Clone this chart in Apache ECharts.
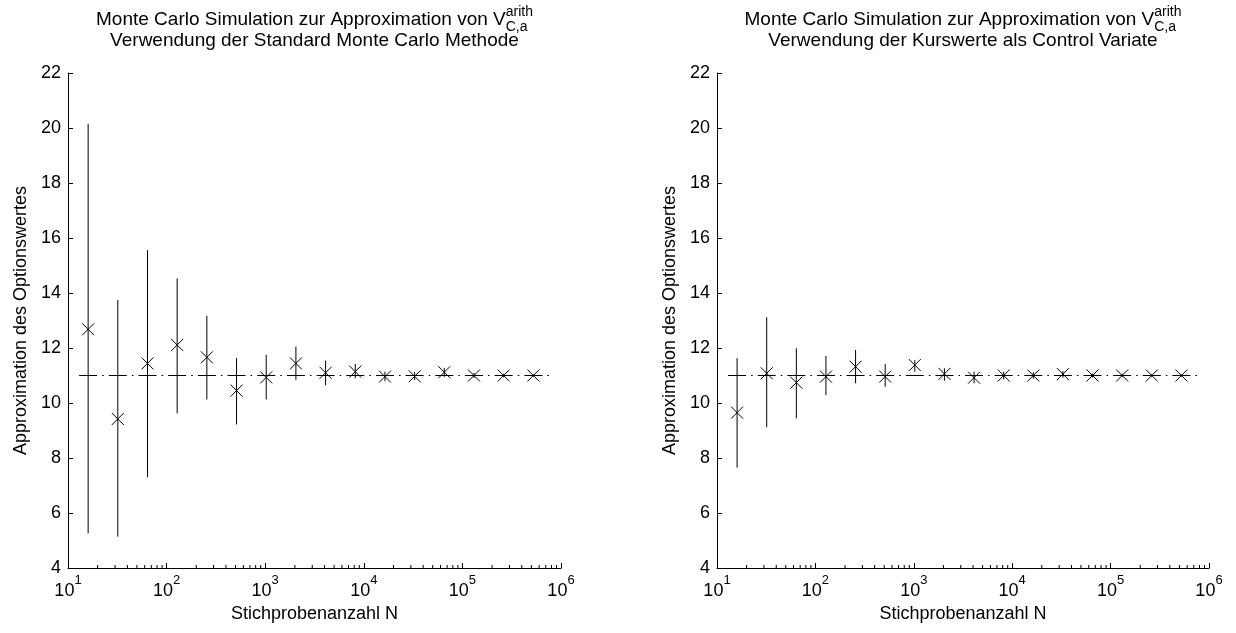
<!DOCTYPE html>
<html><head><meta charset="utf-8">
<script src="https://cdn.jsdelivr.net/npm/echarts@6/dist/echarts.min.js"></script>
<style>html,body{margin:0;padding:0;background:#fff}#c{width:1236px;height:633px}</style>
</head><body><div id="c"></div>
<script>
// ---------- data ----------
const sampleSizes = [16, 32, 64, 128, 256, 512, 1024, 2048, 4096, 8192, 16384, 32768, 65536, 131072, 262144, 524288];
const trueValue = 11;
const stdEstimate = [12.68, 9.42, 11.44, 12.11, 11.66, 10.45, 10.93, 11.44, 11.10, 11.14, 10.96, 10.97, 11.12, 11.00, 11.00, 11.00];
const stdLower    = [5.26, 5.14, 7.30, 9.62, 10.13, 9.22, 10.13, 10.84, 10.65, 10.90, 10.80, 10.83, 10.95, 10.91, 10.94, 10.96];
const stdUpper    = [20.15, 13.75, 15.56, 14.53, 13.17, 11.63, 11.75, 12.05, 11.54, 11.42, 11.14, 11.12, 11.28, 11.09, 11.06, 11.04];
const cvEstimate  = [9.65, 11.08, 10.74, 10.96, 11.32, 10.96, 11.38, 11.06, 10.92, 11.00, 11.00, 11.05, 11.00, 11.00, 11.00, 11.00];
const cvLower     = [7.65, 9.12, 9.44, 10.29, 10.72, 10.59, 11.14, 10.81, 10.72, 10.86, 10.88, 10.92, 10.93, 10.94, 10.95, 10.96];
const cvUpper     = [11.63, 13.12, 11.99, 11.71, 11.93, 11.42, 11.56, 11.26, 11.14, 11.14, 11.12, 11.16, 11.07, 11.06, 11.05, 11.04];
const yMin = 4, yMax = 22, yStep = 2;
const xMin = 10, xMax = 1000000;
const minorTickValues = [20,30,40,50,60,70,80,90, 200,300,400,500,600,700,800,900,
  2000,3000,4000,5000,6000,7000,8000,9000, 20000,30000,40000,50000,60000,70000,80000,90000,
  200000,300000,400000,500000,600000,700000,800000,900000];
const titleMain = 'Monte Carlo Simulation zur Approximation von V';
const titleSup = 'arith';
const titleSub = 'C,a';
const subTitles = ['Verwendung der Standard Monte Carlo Methode', 'Verwendung der Kurswerte als Control Variate'];
const xName = 'Stichprobenanzahl N';
const yName = 'Approximation des Optionswertes';

// ---------- layout ----------
const FONT = '"Liberation Sans", Arial, sans-serif';
const TITLE1_FS = 19, SUP_FS = 14, TITLE2_FS = 19;
const grids = [
  {left: 68, top: 73, width: 493, height: 495},
  {left: 717, top: 73, width: 492, height: 495}
];
const chart = echarts.init(document.getElementById('c'), null, {renderer: 'canvas'});

const ctx = document.createElement('canvas').getContext('2d');
function tw(t, size) { ctx.font = size + 'px ' + FONT; return ctx.measureText(t).width; }

const lineStyle = {stroke: '#000', lineWidth: 1, fill: null};
function errRender(params, api) {
  const N = api.value(0), est = api.value(1), lo = api.value(2), hi = api.value(3);
  const c = api.coord([N, est]);
  const cl = api.coord([N, lo]), ch = api.coord([N, hi]);
  const t = api.coord([N, trueValue]);
  const d = api.coord([N * Math.SQRT2, trueValue]);
  const s = 6, h = 9;
  return {type: 'group', children: [
    {type: 'line', shape: {x1: cl[0], y1: cl[1], x2: ch[0], y2: ch[1]}, style: lineStyle},
    {type: 'line', shape: {x1: t[0] - h, y1: t[1], x2: t[0] + h, y2: t[1]}, style: lineStyle},
    {type: 'line', shape: {x1: d[0] - 0.8, y1: d[1], x2: d[0] + 0.8, y2: d[1]}, style: lineStyle},
    {type: 'line', shape: {x1: c[0] - s, y1: c[1] - s, x2: c[0] + s, y2: c[1] + s}, style: lineStyle},
    {type: 'line', shape: {x1: c[0] - s, y1: c[1] + s, x2: c[0] + s, y2: c[1] - s}, style: lineStyle}
  ]};
}
function minorRender(params, api) {
  const p = api.coord([api.value(0), yMin]);
  return {type: 'line', shape: {x1: p[0], y1: p[1], x2: p[0], y2: p[1] - 3}, style: lineStyle};
}

const xAxes = [], yAxes = [], series = [], graphics = [];
[0, 1].forEach(function (i) {
  const est = i === 0 ? stdEstimate : cvEstimate;
  const lo = i === 0 ? stdLower : cvLower;
  const hi = i === 0 ? stdUpper : cvUpper;
  xAxes.push({
    type: 'log', logBase: 10, gridIndex: i, min: xMin, max: xMax,
    name: xName, nameLocation: 'middle', nameGap: 36,
    nameTextStyle: {fontFamily: FONT, fontSize: 18, color: '#000'},
    axisLine: {onZero: false, lineStyle: {color: '#000', width: 1}},
    axisTick: {inside: true, length: 5, lineStyle: {color: '#000'}},
    splitLine: {show: false}, minorTick: {show: false},
    axisLabel: {
      margin: 6, color: '#000',
      formatter: function (v) { return '{b|10}{s|' + Math.round(Math.log10(v)) + '}'; },
      rich: {
        b: {fontFamily: FONT, fontSize: 18, color: '#000', lineHeight: 26, verticalAlign: 'bottom'},
        s: {fontFamily: FONT, fontSize: 13, color: '#000', lineHeight: 26, verticalAlign: 'top'}
      }
    }
  });
  yAxes.push({
    type: 'value', gridIndex: i, min: yMin, max: yMax, interval: yStep,
    name: yName, nameLocation: 'middle', nameGap: 38, nameRotate: 90,
    nameTextStyle: {fontFamily: FONT, fontSize: 18, color: '#000'},
    axisLine: {show: true, onZero: false, lineStyle: {color: '#000', width: 1}},
    axisTick: {show: true, inside: true, length: 5, lineStyle: {color: '#000'}},
    splitLine: {show: false},
    axisLabel: {margin: 7, fontFamily: FONT, fontSize: 18, color: '#000'}
  });
  series.push({
    type: 'custom', xAxisIndex: i, yAxisIndex: i, renderItem: errRender, silent: true,
    data: sampleSizes.map(function (n, k) { return [n, est[k], lo[k], hi[k]]; })
  });
  series.push({
    type: 'custom', xAxisIndex: i, yAxisIndex: i, renderItem: minorRender, silent: true,
    data: minorTickValues.map(function (v) { return [v]; })
  });
  const g = grids[i];
  const cx = g.left + g.width / 2;
  const wMain = tw(titleMain, TITLE1_FS), wSup = tw(titleSup, SUP_FS);
  const x0 = cx - (wMain + wSup) / 2;
  graphics.push({type: 'text', x: x0, y: 20, style: {text: titleMain, font: TITLE1_FS + 'px ' + FONT, fill: '#000', align: 'left', verticalAlign: 'middle'}});
  graphics.push({type: 'text', x: x0 + wMain, y: 12, style: {text: titleSup, font: SUP_FS + 'px ' + FONT, fill: '#000', align: 'left', verticalAlign: 'middle'}});
  graphics.push({type: 'text', x: x0 + wMain, y: 27, style: {text: titleSub, font: SUP_FS + 'px ' + FONT, fill: '#000', align: 'left', verticalAlign: 'middle'}});
  graphics.push({type: 'text', x: cx, y: 41, style: {text: subTitles[i], font: TITLE2_FS + 'px ' + FONT, fill: '#000', align: 'center', verticalAlign: 'middle'}});
});

chart.setOption({
  backgroundColor: '#fff',
  animation: false,
  grid: grids,
  xAxis: xAxes,
  yAxis: yAxes,
  series: series,
  graphic: graphics
});
</script>
</body></html>
